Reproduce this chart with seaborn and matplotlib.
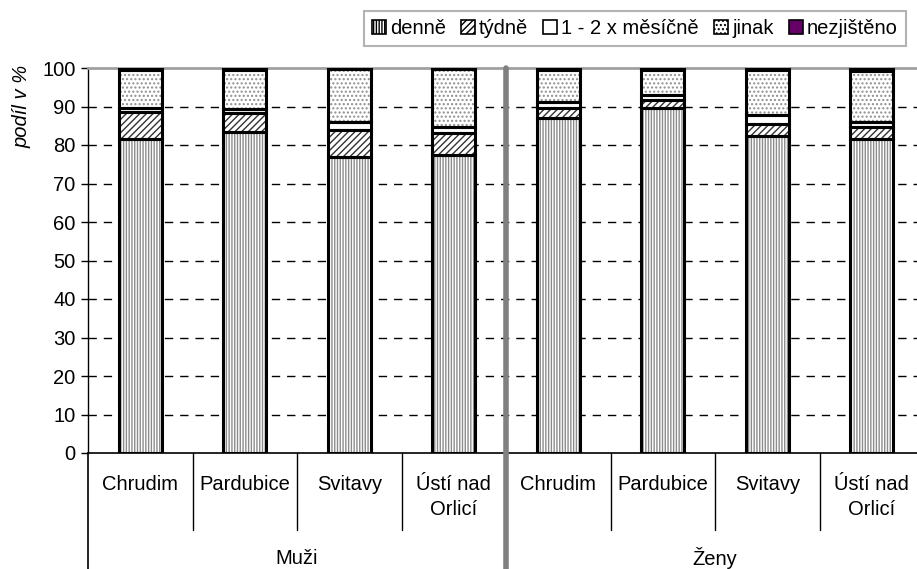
import matplotlib
matplotlib.use("Agg")
import matplotlib.pyplot as plt
import matplotlib.transforms as mtransforms
from matplotlib.patches import Patch
import numpy as np
import pandas as pd
import seaborn as sns

# Districts per sex group (Muži first, then Ženy)
groups = ["Muži", "Ženy"]
districts = ["Chrudim", "Pardubice", "Svitavy", "Ústí nad\nOrlicí"]

# Share (%) of each answer, stacked from the bottom
denne = [81.5, 83.5, 77.0, 77.4, 86.9, 89.7, 82.3, 81.5]
tydne = [7.0, 4.7, 6.9, 5.6, 2.8, 2.0, 3.1, 3.1]
mesicne = [1.0, 1.2, 2.2, 1.8, 1.4, 1.3, 2.4, 1.5]
jinak = [10.0, 10.1, 13.6, 14.9, 8.4, 6.5, 11.7, 13.1]
nezjisteno = [0.5, 0.5, 0.3, 0.3, 0.5, 0.5, 0.5, 0.8]

series_names = ["denně", "týdně", "1 - 2 x měsíčně", "jinak", "nezjištěno"]
series_values = [denne, tydne, mesicne, jinak, nezjisteno]
y_ticks = list(range(0, 101, 10))

face_colors = ["white", "white", "white", "white", "#660066"]
hatches = ["||||||", "/////", "", "....", ""]
hatch_colors = ["#8c8c8c", "#333333", "white", "#8f8f8f", "#660066"]

FS = 14.5

sns.set_theme(style="white")
plt.rcParams["font.family"] = ["Liberation Sans", "DejaVu Sans"]
plt.rcParams["hatch.linewidth"] = 1.0
plt.rcParams["text.color"] = "black"
plt.rcParams["axes.labelcolor"] = "black"
plt.rcParams["xtick.color"] = "black"
plt.rcParams["ytick.color"] = "black"

fig = plt.figure(figsize=(9.17, 5.69), dpi=100)
W, H = 917, 569
ax = fig.add_axes([88 / W, 1 - 453 / H, 836 / W, 385 / H])

slots = [f"{g}|{d}" for g in groups for d in districts]
bar_width = 0.41

bottom = np.zeros(len(slots))
for name, vals, fc, hatch, hc in zip(series_names, series_values, face_colors, hatches, hatch_colors):
    df = pd.DataFrame({"slot": slots, "share": vals})
    # patterned fill
    sns.barplot(data=df, x="slot", y="share", order=slots, ax=ax, width=bar_width,
                color=fc, saturation=1, hatch=hatch, edgecolor=hc, linewidth=0,
                bottom=bottom.copy(), errorbar=None, zorder=3)
    # black outline of the segment
    sns.barplot(data=df, x="slot", y="share", order=slots, ax=ax, width=bar_width,
                fill=False, color="black", linewidth=2.2,
                bottom=bottom.copy(), errorbar=None, zorder=4)
    bottom += np.array(vals)

ax.set_xlim(-0.5, 7.5)
ax.set_ylim(0, 100)
ax.set_yticks(y_ticks)
ax.set_yticklabels([str(t) for t in y_ticks], fontsize=FS, color="black")
ax.tick_params(axis="y", which="major", direction="out", length=5, width=1,
               color="black", left=True, pad=4)

# dashed grid
for t in y_ticks[1:-1]:
    ax.axhline(t, color="black", lw=1, ls=(0, (6, 5)), zorder=1)

# spines
ax.spines["right"].set_visible(False)
ax.spines["top"].set_color("#a0a0a0")
ax.spines["top"].set_linewidth(2)
ax.spines["left"].set_color("black")
ax.spines["left"].set_linewidth(1)
ax.spines["bottom"].set_color("black")
ax.spines["bottom"].set_linewidth(1.2)

# category labels
ax.set_xticks(range(len(slots)))
ax.set_xticklabels(districts * len(groups), fontsize=FS, linespacing=1.4, color="black")
ax.tick_params(axis="x", length=0, pad=16)
ax.set_xlabel("")

# hierarchy lines under the axis
trans = mtransforms.blended_transform_factory(ax.transData, ax.transAxes)
for x in [0.5, 1.5, 2.5, 4.5, 5.5, 6.5]:
    ax.plot([x, x], [0, -0.2], color="black", lw=1, transform=trans, clip_on=False)
ax.plot([-0.5, -0.5], [0, -0.31], color="black", lw=1.2, transform=trans, clip_on=False)
ax.plot([3.5, 3.5], [1, -0.31], color="#808080", lw=4, transform=trans, clip_on=False, zorder=5)

for i, g in enumerate(groups):
    ax.text(1.5 + 4 * i, -0.274, g, transform=trans, ha="center", va="center",
            fontsize=FS, color="black")

ax.set_ylabel("podíl v %", fontsize=FS, style="italic", color="black")
ax.yaxis.set_label_coords(-0.068, 0.9)

# legend
handles = [Patch(facecolor=fc, hatch=h, edgecolor="black", linewidth=1.2)
           for fc, h in zip(face_colors, hatches)]
leg = fig.legend(handles, series_names, loc="upper right", bbox_to_anchor=(906 / W, 1 - 11 / H),
                 ncol=5, fontsize=FS, frameon=True, fancybox=False, handlelength=0.7,
                 handleheight=0.7, handletextpad=0.2, columnspacing=0.75, borderpad=0.4,
                 borderaxespad=0, labelcolor="black")
leg.get_frame().set_edgecolor("#a0a0a0")
leg.get_frame().set_linewidth(1.5)

fig.savefig("out.png", dpi=100)
